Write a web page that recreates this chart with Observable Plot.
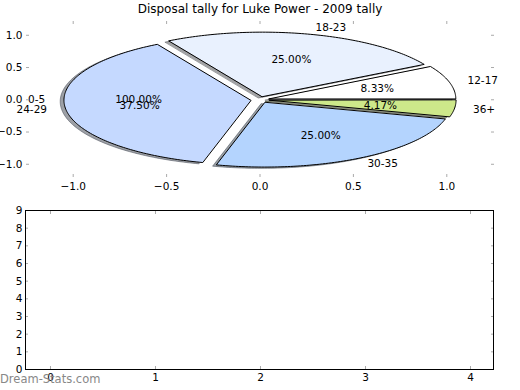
<!DOCTYPE html>
<html>
<head>
<meta charset="utf-8">
<script src="https://cdn.jsdelivr.net/npm/d3@7"></script>
<script src="https://cdn.jsdelivr.net/npm/@observablehq/plot@0.6"></script>
<style>
  body { margin: 0; background: #fff; }
  #chart { position: relative; width: 520px; height: 390px; background: #fff; overflow: hidden; font-family: "DejaVu Sans", sans-serif; }
  #top { position: absolute; left: 0; top: 0; }
  #bottom { position: absolute; left: 0; top: 200px; }
  #title { position: absolute; left: 0; top: 2px; width: 520px; text-align: center; font-size: 12px; color: #000; }
  #wm { position: absolute; left: 0; top: 372px; font-size: 11.5px; color: #888; }
</style>
</head>
<body>
<div id="chart">
  <div id="top"></div>
  <div id="bottom"></div>
  <div id="title">Disposal tally for Luke Power - 2009 tally</div>
  <div id="wm">Dream-Stats.com</div>
</div>
<script>
// ---- data ----
const ageGroups   = ["0-5", "12-17", "18-23", "24-29", "30-35", "36+"];
const disposals   = [0, 2, 6, 9, 6, 1];
const pctLabels   = ["100.00%", "8.33%", "25.00%", "37.50%", "25.00%", "4.17%"];
const sliceColors = ["#ffffff", "#ffffff", "#e9f1fe", "#c5d9ff", "#b4d4fe", "#cde88a"];
const zeroSliceAngle = 180;   // where the empty "0-5" slice's labels sit
const xTicksTop = [-1, -0.5, 0, 0.5, 1];
const yTicksTop = [-1, -0.5, 0, 0.5, 1];
const xTicksBottom = [0, 1, 2, 3, 4];
const yTicksBottom = [0, 1, 2, 3, 4, 5, 6, 7, 8, 9];

// ---- pie geometry in data units ----
const explode = 0.05, shadowOff = 0.02, labelDist = 1.1, pctDist = 0.6;
const rad = d => d * Math.PI / 180;
const total = d3.sum(disposals);
let cum = 0;
const slices = ageGroups.map((g, i) => {
  const v = disposals[i];
  let a0, a1;
  if (v === 0) { a0 = a1 = zeroSliceAngle; }
  else { a0 = cum / total * 360; cum += v; a1 = cum / total * 360; }
  const mid = (a0 + a1) / 2;
  const ox = explode * Math.cos(rad(mid)), oy = explode * Math.sin(rad(mid));
  return {group: g, value: v, a0, a1, mid, ox, oy, color: sliceColors[i], pct: pctLabels[i],
          lx: ox + labelDist * Math.cos(rad(mid)), ly: oy + labelDist * Math.sin(rad(mid)),
          px: ox + pctDist * Math.cos(rad(mid)), py: oy + pctDist * Math.sin(rad(mid))};
});
const poly = [];
slices.filter(s => s.value > 0).forEach(s => {
  poly.push({g: s.group, x: s.ox, y: s.oy, color: s.color});
  const n = Math.max(2, Math.ceil(s.a1 - s.a0));
  for (let k = 0; k <= n; k++) {
    const a = rad(s.a0 + (s.a1 - s.a0) * k / n);
    poly.push({g: s.group, x: s.ox + Math.cos(a), y: s.oy + Math.sin(a), color: s.color});
  }
});
const darken = c => { const r = d3.rgb(c); return d3.rgb(r.r * 0.3, r.g * 0.3, r.b * 0.3).formatHex(); };

const baseStyle = {fontFamily: "DejaVu Sans, sans-serif", fontSize: "10.5px", background: "transparent", color: "#000", overflow: "visible"};
const tickGray = "#aaaaaa";
const blank = () => "";

const topPlot = Plot.plot({
  width: 520, height: 200,
  marginLeft: 26, marginRight: 27, marginTop: 20, marginBottom: 23,
  x: {domain: [-1.25, 1.25]},
  y: {domain: [-1.205, 1.229]},
  color: {type: "identity"},
  style: baseStyle,
  marks: [
    Plot.line(poly, {x: d => d.x - shadowOff, y: d => d.y - shadowOff, z: "g", fill: d => darken(d.color), fillOpacity: 0.5, stroke: d => darken(d.color), strokeOpacity: 0.5, strokeWidth: 1, curve: "linear-closed"}),
    Plot.line(poly, {x: "x", y: "y", z: "g", fill: "color", stroke: "#000", strokeWidth: 1, curve: "linear-closed"}),
    Plot.text(slices.filter(s => s.lx > 0), {x: "lx", y: "ly", text: "group", textAnchor: "start", fill: "#000"}),
    Plot.text(slices.filter(s => s.lx <= 0), {x: "lx", y: "ly", text: "group", textAnchor: "end", fill: "#000"}),
    Plot.text(slices, {x: "px", y: "py", text: "pct", fill: "#000"}),
    Plot.axisX(xTicksTop, {anchor: "bottom", tickSize: -3, stroke: tickGray, tickFormat: blank}),
    Plot.axisX(xTicksTop, {anchor: "top", tickSize: -3, stroke: tickGray, tickFormat: blank}),
    Plot.axisY(yTicksTop, {anchor: "left", tickSize: -3, stroke: tickGray, tickFormat: blank}),
    Plot.axisY(yTicksTop, {anchor: "right", tickSize: -3, stroke: tickGray, tickFormat: blank}),
    Plot.axisX(xTicksTop, {anchor: "bottom", tickSize: 0, tickPadding: 5, tickFormat: d3.format(".1f"), label: null}),
    Plot.axisY(yTicksTop, {anchor: "left", tickSize: 0, tickPadding: 4, tickFormat: d3.format(".1f"), label: null})
  ]
});
document.getElementById("top").appendChild(topPlot);

const bottomPlot = Plot.plot({
  width: 520, height: 190,
  marginLeft: 25, marginRight: 27, marginTop: 10, marginBottom: 21,
  x: {domain: [-0.238, 4.219]},
  y: {domain: [0, 9]},
  style: baseStyle,
  marks: [
    Plot.axisX(xTicksBottom, {anchor: "bottom", tickSize: -3, stroke: tickGray, tickFormat: blank}),
    Plot.axisX(xTicksBottom, {anchor: "top", tickSize: -3, stroke: tickGray, tickFormat: blank}),
    Plot.axisY(yTicksBottom, {anchor: "left", tickSize: -3, stroke: tickGray, tickFormat: blank}),
    Plot.axisY(yTicksBottom, {anchor: "right", tickSize: -3, stroke: tickGray, tickFormat: blank}),
    Plot.frame({stroke: "#000", strokeWidth: 1}),
    Plot.axisX(xTicksBottom, {anchor: "bottom", tickSize: 0, tickPadding: 4, tickFormat: d3.format("d"), label: null}),
    Plot.axisY(yTicksBottom, {anchor: "left", tickSize: 0, tickPadding: 3, tickFormat: d3.format("d"), label: null})
  ]
});
document.getElementById("bottom").appendChild(bottomPlot);
</script>
</body>
</html>
